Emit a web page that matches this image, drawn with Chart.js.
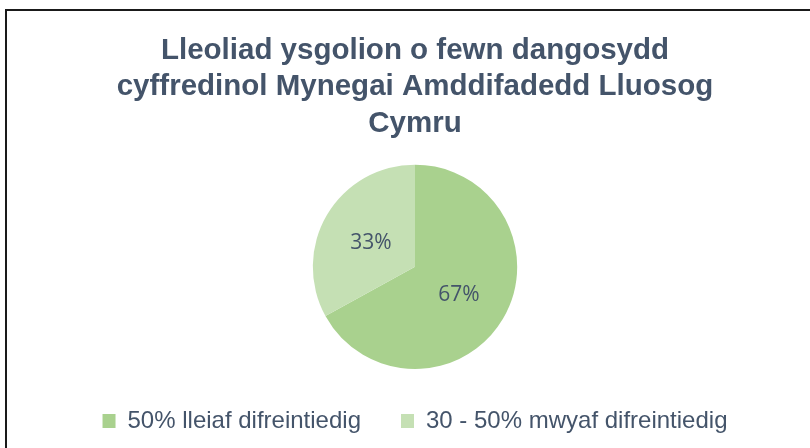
<!DOCTYPE html>
<html>
<head>
<meta charset="utf-8">
<script src="https://cdn.jsdelivr.net/npm/chart.js@4"></script>
<style>
  html, body { margin: 0; padding: 0; background: #fff; }
  #wrap { width: 810px; height: 448px; position: relative; }
</style>
</head>
<body>
<div id="wrap"><canvas id="c" width="810" height="448"></canvas></div>
<script>
const titleLines = ["Lleoliad ysgolion o fewn dangosydd", "cyffredinol Mynegai Amddifadedd Lluosog", "Cymru"];
const categories = ["50% lleiaf difreintiedig", "30 - 50% mwyaf difreintiedig"];
const values = [67, 33];
const valueLabels = ["67%", "33%"];
const sliceColors = ["#a9d18e", "#c5e0b4"];
const textColor = "#44546a";

const framePlugin = {
  id: 'frame',
  beforeDraw(chart) {
    const ctx = chart.ctx;
    ctx.save();
    ctx.fillStyle = '#fff';
    ctx.fillRect(0, 0, chart.width, chart.height);
    ctx.strokeStyle = '#1a1a1a';
    ctx.lineWidth = 2;
    ctx.strokeRect(6, 10, 900, 600);
    ctx.restore();
  }
};

const labelPlugin = {
  id: 'sliceLabels',
  afterDatasetsDraw(chart) {
    const ctx = chart.ctx;
    const meta = chart.getDatasetMeta(0);
    ctx.save();
    ctx.font = '21px "Open Sans", sans-serif';
    ctx.fillStyle = textColor;
    ctx.textAlign = 'center';
    ctx.textBaseline = 'middle';
    meta.data.forEach((arc, i) => {
      const mid = (arc.startAngle + arc.endAngle) / 2;
      const r = arc.outerRadius * 0.5;
      ctx.fillText(valueLabels[i], arc.x + Math.cos(mid) * r, arc.y + Math.sin(mid) * r + 2.5);
    });
    ctx.restore();
  }
};

new Chart(document.getElementById('c'), {
  type: 'pie',
  data: {
    labels: categories,
    datasets: [{
      data: values,
      backgroundColor: sliceColors,
      borderWidth: 0
    }]
  },
  options: {
    responsive: false,
    animation: false,
    devicePixelRatio: 1,
    layout: { padding: { left: 20, right: 0, top: 0, bottom: 5 } },
    plugins: {
      title: {
        display: true,
        text: titleLines,
        color: textColor,
        font: { family: '"Liberation Sans", Arial, sans-serif', size: 29.5, weight: 'bold', lineHeight: 1.25 },
        padding: { top: 32, bottom: 22 }
      },
      legend: {
        display: true,
        position: 'bottom',
        labels: {
          color: textColor,
          font: { family: '"Liberation Sans", Arial, sans-serif', size: 24 },
          boxWidth: 13,
          boxHeight: 14,
          padding: 40
        }
      },
      tooltip: { enabled: false }
    }
  },
  plugins: [framePlugin, labelPlugin]
});
</script>
</body>
</html>
